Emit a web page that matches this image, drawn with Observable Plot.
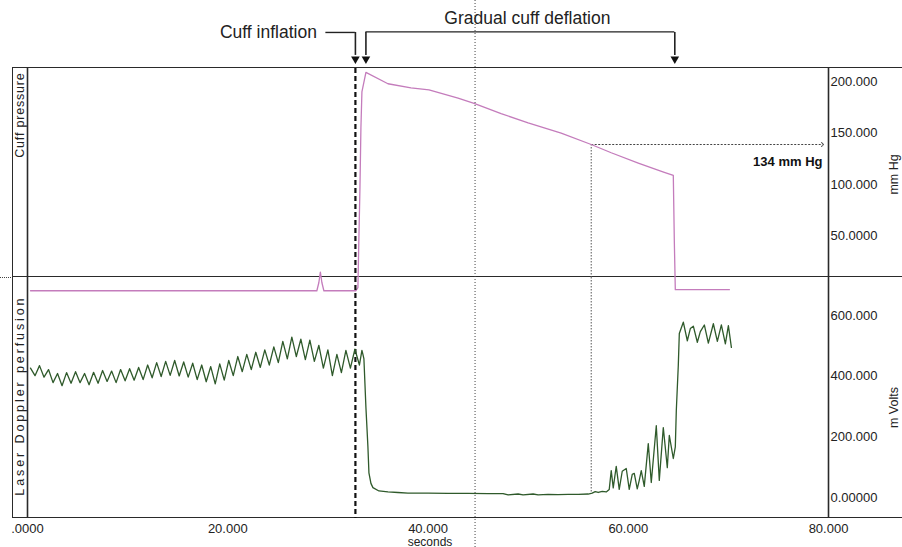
<!DOCTYPE html>
<html>
<head>
<meta charset="utf-8">
<script src="https://cdn.jsdelivr.net/npm/d3@7"></script>
<script src="https://cdn.jsdelivr.net/npm/@observablehq/plot@0.6"></script>
<style>
  body { margin: 0; background: #fff; }
  #wrap { position: relative; width: 902px; height: 547px; overflow: hidden; background: #fff; }
  #wrap svg { position: absolute; left: 0; top: 0; }
  .hline { position: absolute; height: 0; border-top: 1.6px solid #2a2a2a; }
  .vline { position: absolute; width: 0; border-left: 1.6px solid #2a2a2a; }
  .dotted { position: absolute; height: 0; border-top: 1px dotted #444; }
</style>
</head>
<body>
<div id="wrap">
  <div class="hline" style="left:13px; top:67px; width:889px;"></div>
  <div class="hline" style="left:13px; top:276px; width:889px;"></div>
  <div class="dotted" style="left:0px; top:277px; width:13px;"></div>
  <div class="hline" style="left:13px; top:517px; width:889px;"></div>
  <div class="vline" style="left:12px; top:67px; height:451px;"></div>
</div>
<script>
// ---------------- DATA ----------------
const xTicks = [0, 20, 40, 60, 80];
const xTickLabels = [".0000", "20.000", "40.000", "60.000", "80.000"];

const pressureTicks = [200, 150, 100, 50];
const pressureTickLabels = ["200.000", "150.000", "100.000", "50.0000"];

const perfusionTicks = [600, 400, 200, 0];
const perfusionTickLabels = ["600.000", "400.000", "200.000", "0.00000"];

// Cuff pressure (mm Hg) vs time (s)
const pressureTime  = [0.3, 5, 10, 15, 20, 25, 28.9, 29.1, 29.25, 29.4, 29.6, 32.8, 33.0, 33.1, 33.2, 33.3, 33.4, 33.8, 36.0, 38.3, 40.1, 43.0, 44.6, 47.3, 50.0, 53.3, 56.3, 58.3, 61.0, 63.6, 64.5, 64.6, 64.7, 70.1];
const pressureValue = [-8, -8, -8, -8, -8, -8, -8, 0, 10, 0, -8, -8, -5, 44, 90, 150, 185, 204, 193, 189, 187, 179, 174, 164, 155, 145, 134, 126, 116, 107, 104, 41, -7, -7];

// Laser Doppler perfusion (m Volts) vs time (s)
const perfusionTime = [
  0.3, 0.75, 1.2, 1.65, 2.1, 2.55, 3.0, 3.45, 3.9, 4.35, 4.8, 5.25, 5.7, 6.15, 6.6, 7.05, 7.5, 7.95, 8.4, 8.85,
  9.3, 9.75, 10.2, 10.65, 11.1, 11.55, 12.0, 12.45, 12.9, 13.35, 13.8, 14.25, 14.7, 15.15, 15.6, 16.05, 16.5, 16.95, 17.4, 17.85,
  18.3, 18.75, 19.2, 19.65, 20.1, 20.55, 21.0, 21.45, 21.9, 22.35, 22.8, 23.25, 23.7, 24.15, 24.6, 25.05, 25.5, 25.95, 26.4, 26.85,
  27.3, 27.75, 28.2, 28.65, 29.1, 29.55, 30.0, 30.45, 30.9, 31.35, 31.8, 32.25, 32.7, 33.15, 33.4, 33.5, 33.6, 33.8, 34.0, 34.1,
  34.3, 34.5, 35.1, 36, 37, 38, 40, 42, 44, 46, 47.5, 48, 49, 49.5, 50.5, 51, 52, 53, 54, 55,
  56, 56.4, 56.7, 57.0, 57.4, 57.8, 58.1, 58.3, 58.5, 58.8, 59.1, 59.4, 59.8, 60.1, 60.4, 60.6, 60.9, 61.1, 61.3, 61.6,
  62.0, 62.3, 62.8, 63.1, 63.5, 63.9, 64.1, 64.5, 64.7, 64.8, 65.0, 65.1, 65.5, 65.9, 66.2, 66.5, 66.9, 67.2, 67.6, 68.0,
  68.5, 68.9, 69.3, 69.7, 70.0, 70.3
];
const perfusionValue = [
  410, 385, 418, 380, 405, 362, 392, 352, 395, 360, 398, 362, 392, 355, 396, 360, 402, 366, 400, 362,
  405, 368, 408, 370, 412, 372, 420, 378, 428, 382, 432, 386, 435, 384, 430, 380, 426, 372, 420, 365,
  415, 358, 424, 370, 435, 385, 448, 398, 455, 405, 462, 412, 470, 420, 480, 428, 498, 440, 512, 448,
  505, 438, 502, 432, 485, 410, 470, 385, 455, 395, 468, 410, 472, 420, 468, 455, 440, 280, 150, 65,
  30, 16, 5, 2, 0, -2, -2, -3, -3, -4, -4, -8, -5, -8, -5, -8, -6, -7, -6, -6,
  -5, -2, 3, 0, 4, 2, 10, 72, 15, 86, 10, 70, 79, 10, 60, 63, 12, 40, 72, 20,
  161, 33, 220, 40, 214, 82, 188, 112, 150, 270, 420, 524, 561, 500, 540, 548, 495, 530, 552, 492,
  556, 498, 552, 490, 550, 478
];

// Event times (s) and the pressure at reperfusion
const inflationTime = 32.75;
const deflationStartTime = 33.8;
const deflationEndTime = 64.65;
const cursorTime = 44.7;
const reperfusionTime = 56.3;
const reperfusionPressure = 134;
const reperfusionArrowEnd = 79.4;

// ---------------- LAYOUT ----------------
const W = 902, H = 547;
const ML = 27, MR = 74;
const TOP = 68, MID = 277, BOT = 518;
const FONT = "'Liberation Sans', Arial, Helvetica, sans-serif";
const pressureDomain = [4.85, 207.8];
const perfusionDomain = [-85.7, 708.4];

const pressure = pressureTime.map((t, i) => ({t, v: pressureValue[i]}));
const perfusion = perfusionTime.map((t, i) => ({t, v: perfusionValue[i]}));

const common = {
  width: W, height: H, marginLeft: ML, marginRight: MR,
  x: {domain: [0, 80], axis: null},
  style: {background: "transparent", overflow: "visible", fontFamily: FONT, color: "#1e1e1e"}
};

// annotation anchors (in data space, outside the frames)
const bracketY = 242.8, stemEndY = 220.5, headY = 217.0, titleY = 256.6;
const brackets = [
  {x1: 29.8, x2: inflationTime, y: bracketY},
  {x1: deflationStartTime, x2: deflationEndTime, y: bracketY + 0.6}
];
const stems = [inflationTime, deflationStartTime, deflationEndTime];
const stripX = -0.7;   // centre of the left label strip
const unitX = 86.5;    // centre of the right unit labels

const topPlot = Plot.plot({
  ...common,
  marginTop: TOP, marginBottom: H - MID,
  y: {domain: pressureDomain, axis: null},
  marks: [
    Plot.ruleX([0, 80], {stroke: "#2a2a2a", strokeWidth: 1.6}),
    Plot.ruleX([inflationTime], {stroke: "#111", strokeWidth: 2.2, strokeDasharray: "5,3"}),
    Plot.ruleX([reperfusionTime], {y1: reperfusionPressure, y2: pressureDomain[0], stroke: "#555", strokeWidth: 1, strokeDasharray: "1.5,1.5"}),
    Plot.link([{x1: reperfusionTime, x2: reperfusionArrowEnd, y: reperfusionPressure}],
      {x1: "x1", x2: "x2", y1: "y", y2: "y", stroke: "#444", strokeWidth: 1, strokeDasharray: "2,1.5", markerEnd: "arrow"}),
    Plot.text(["134 mm Hg"], {x: reperfusionArrowEnd, y: reperfusionPressure, dy: 17, textAnchor: "end", fontWeight: "bold", fontSize: 13, fill: "#111"}),
    Plot.line(pressure, {x: "t", y: "v", stroke: "#c47cbc", strokeWidth: 1.3}),
    Plot.text(pressureTicks, {x: 80, y: d => d, text: (d, i) => pressureTickLabels[i], dx: 2, dy: 5, textAnchor: "start", fontSize: 13, fill: "#222"}),
    // annotation brackets and arrows
    Plot.ruleY(brackets, {x1: "x1", x2: "x2", y: "y", stroke: "#222", strokeWidth: 1.4}),
    Plot.ruleX(stems, {y1: bracketY, y2: stemEndY, stroke: "#222", strokeWidth: 1.6}),
    Plot.dot(stems, {x: d => d, y: headY, symbol: "triangle", r: 3.2, rotate: 180, fill: "#111", stroke: "none"}),
    Plot.text(["Cuff inflation"], {x: 29.8, y: bracketY, dx: -9, textAnchor: "end", fontSize: 17.5, fill: "#222"}),
    Plot.text(["Gradual cuff deflation"], {x: (deflationStartTime + deflationEndTime) / 2, y: titleY, dx: 7, fontSize: 17.5, fill: "#222"}),
    // panel labels
    Plot.text(["Cuff pressure"], {x: stripX, y: 203.9, rotate: -90, textAnchor: "end", fontSize: 12.5, fill: "#222"}),
    Plot.text(["mm Hg"], {x: unitX, y: 104.9, rotate: -90, fontSize: 12.5, fill: "#222"})
  ]
});

const bottomPlot = Plot.plot({
  ...common,
  marginTop: MID, marginBottom: H - BOT,
  y: {domain: perfusionDomain, axis: null},
  marks: [
    Plot.ruleX([0, 80], {stroke: "#2a2a2a", strokeWidth: 1.6}),
    Plot.ruleX([inflationTime], {stroke: "#111", strokeWidth: 2.2, strokeDasharray: "5,3"}),
    Plot.ruleX([reperfusionTime], {y1: perfusionDomain[1], y2: -3, stroke: "#555", strokeWidth: 1, strokeDasharray: "1.5,1.5"}),
    Plot.line(perfusion, {x: "t", y: "v", stroke: "#2f5a2b", strokeWidth: 1.3}),
    Plot.text(perfusionTicks, {x: 80, y: d => d, text: (d, i) => perfusionTickLabels[i], dx: 2, dy: 5, textAnchor: "start", fontSize: 13, fill: "#222"}),
    Plot.text(xTicks, {x: d => d, frameAnchor: "bottom", dy: 14, text: (d, i) => xTickLabels[i], fontSize: 13, fill: "#222"}),
    Plot.text(["seconds"], {frameAnchor: "bottom", dx: 2, dy: 27, fontSize: 12, fill: "#222"}),
    Plot.text(["Laser Doppler perfusion"], {x: stripX, y: 649, rotate: -90, textAnchor: "end", fontSize: 12.5, fill: "#222"}),
    Plot.text(["m Volts"], {x: unitX, y: 280, rotate: -90, fontSize: 12.5, fill: "#222"})
  ]
});

const cursorPlot = Plot.plot({
  ...common,
  marginTop: 0, marginBottom: 0,
  marks: [
    Plot.ruleX([cursorTime], {stroke: "#444", strokeWidth: 1, strokeDasharray: "1,2"})
  ]
});

// stretch the strip labels along the strip, as in the recording software
d3.select(topPlot).selectAll("text").filter(function () { return this.textContent === "Cuff pressure"; })
  .style("letter-spacing", "0.8px");
d3.select(bottomPlot).selectAll("text").filter(function () { return this.textContent === "Laser Doppler perfusion"; })
  .style("letter-spacing", "2.9px");

const wrap = document.getElementById("wrap");
wrap.append(topPlot, bottomPlot, cursorPlot);
</script>
</body>
</html>
